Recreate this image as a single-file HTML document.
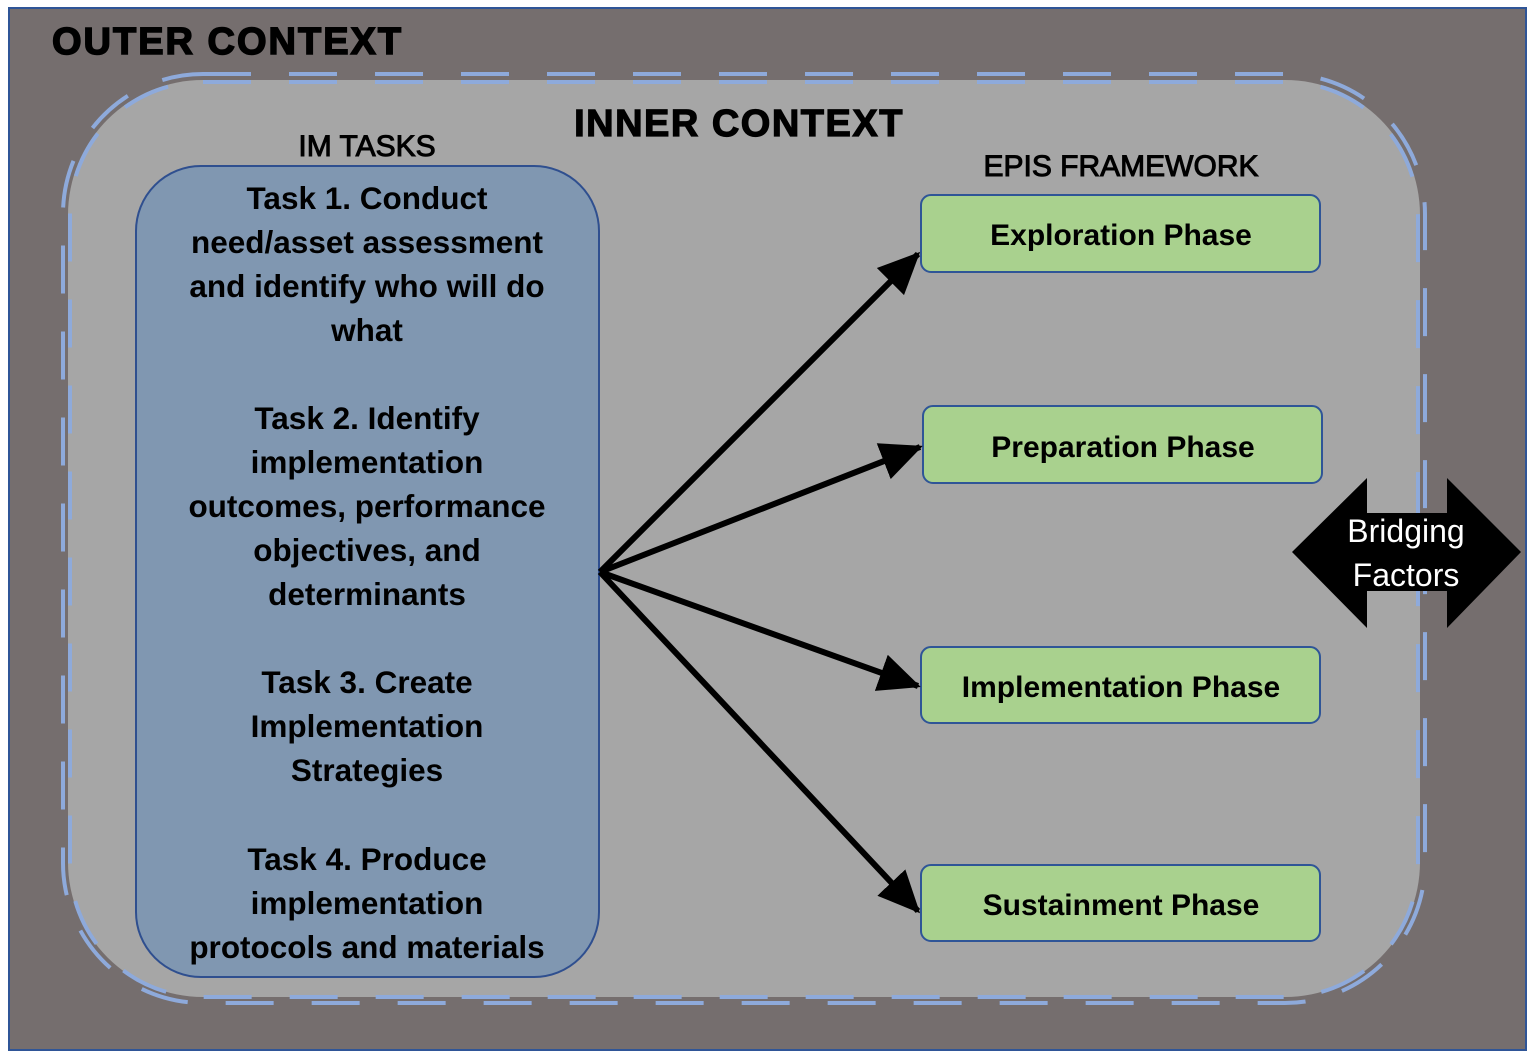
<!DOCTYPE html>
<html><head><style>
body{margin:0;background:#fff;}
svg{display:block;}
text{font-family:"Liberation Sans",sans-serif;font-weight:bold;}
text.n{font-weight:normal;}
</style></head><body>
<svg width="1535" height="1057" viewBox="0 0 1535 1057">
<defs>
<marker id="ah" markerWidth="8" markerHeight="8" refX="6.5" refY="4" orient="auto" markerUnits="strokeWidth">
<path d="M0,0.8 L7,4 L0,7.2 Z" fill="#000"/></marker>
</defs>
<rect x="9" y="8" width="1517" height="1042" fill="#756e6e" stroke="#2f5597" stroke-width="2"/>
<text x="52" y="54" font-size="38" style="font-weight:900;letter-spacing:2px" fill="#000" stroke="#000" stroke-width="1.5">OUTER CONTEXT</text>
<rect x="68" y="80" width="1352" height="917" rx="135" fill="#a6a6a6"/>
<rect x="63" y="74" width="1362" height="929" rx="140" fill="none" stroke="#8eaadb" stroke-width="4" stroke-dasharray="48 38"/>
<rect x="70" y="82" width="1348" height="915" rx="133" fill="none" stroke="#8eaadb" stroke-width="4" stroke-dasharray="48 38"/>
<text x="739" y="136" font-size="38" text-anchor="middle" fill="#000" stroke="#000" stroke-width="1.2" style="letter-spacing:1.5px">INNER CONTEXT</text>
<text x="367" y="156" font-size="30" text-anchor="middle" fill="#000" style="font-weight:normal" stroke="#000" stroke-width="1">IM TASKS</text>
<text x="1121" y="176" font-size="30" text-anchor="middle" fill="#000" style="font-weight:normal" stroke="#000" stroke-width="1">EPIS FRAMEWORK</text>
<rect x="136" y="166" width="463" height="811" rx="65" fill="#8097b1" stroke="#2f4f8f" stroke-width="2"/>
<g font-size="31.5" text-anchor="middle" fill="#000">
<text x="367" y="209">Task 1. Conduct</text>
<text x="367" y="253">need/asset assessment</text>
<text x="367" y="297">and identify who will do</text>
<text x="367" y="341">what</text>
<text x="367" y="429">Task 2. Identify</text>
<text x="367" y="473">implementation</text>
<text x="367" y="517">outcomes, performance</text>
<text x="367" y="561">objectives, and</text>
<text x="367" y="605">determinants</text>
<text x="367" y="693">Task 3. Create</text>
<text x="367" y="737">Implementation</text>
<text x="367" y="781">Strategies</text>
<text x="367" y="870">Task 4. Produce</text>
<text x="367" y="914">implementation</text>
<text x="367" y="958">protocols and materials</text>
</g>
<g fill="#a9d18e" stroke="#2f5597" stroke-width="2">
<rect x="921" y="195" width="399" height="77" rx="10"/>
<rect x="923" y="406" width="399" height="77" rx="10"/>
<rect x="921" y="647" width="399" height="76" rx="10"/>
<rect x="921" y="865" width="399" height="76" rx="10"/>
</g>
<g font-size="30" text-anchor="middle" fill="#000">
<text x="1121" y="245">Exploration Phase</text>
<text x="1123" y="457">Preparation Phase</text>
<text x="1121" y="697">Implementation Phase</text>
<text x="1121" y="915">Sustainment Phase</text>
</g>
<g stroke="#000" stroke-width="6" fill="none" marker-end="url(#ah)">
<line x1="600" y1="572" x2="918" y2="254"/>
<line x1="600" y1="572" x2="920" y2="447"/>
<line x1="600" y1="572" x2="918" y2="686"/>
<line x1="600" y1="572" x2="918" y2="911"/>
</g>
<path d="M1292,552 L1367,478 L1367,513 L1447,513 L1447,478 L1521,552 L1447,628 L1447,591 L1367,591 L1367,628 Z" fill="#000"/>
<g font-size="32" text-anchor="middle" fill="#fff">
<text class="n" x="1406" y="542">Bridging</text>
<text class="n" x="1406" y="586">Factors</text>
</g>
</svg>
</body></html>
